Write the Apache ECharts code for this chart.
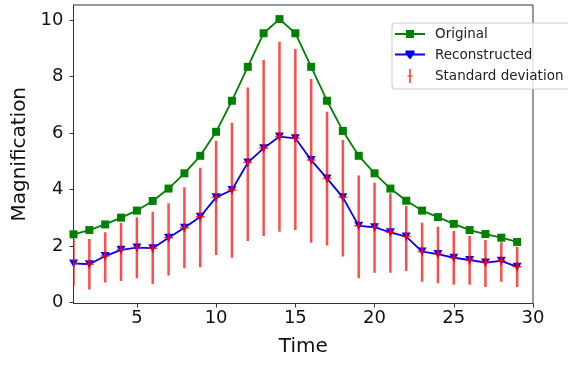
<!DOCTYPE html>
<html>
<head>
<meta charset="utf-8">
<script src="https://cdn.jsdelivr.net/npm/echarts@6/dist/echarts.min.js"></script>
<style>
html,body{margin:0;padding:0;background:#fff;}
#chart{width:568px;height:365px;}
</style>
</head>
<body>
<div id="chart"></div>
<script>
var timeValues = [1,2,3,4,5,6,7,8,9,10,11,12,13,14,15,16,17,18,19,20,21,22,23,24,25,26,27,28,29];
var originalValues = [2.42,2.57,2.77,3.01,3.26,3.60,4.04,4.58,5.20,6.05,7.15,8.35,9.54,10.04,9.54,8.35,7.15,6.08,5.20,4.58,4.04,3.61,3.26,3.03,2.79,2.57,2.43,2.30,2.15];
var reconstructedValues = [1.39,1.36,1.65,1.87,1.95,1.93,2.30,2.65,3.04,3.73,3.99,4.96,5.47,5.88,5.82,5.05,4.40,3.73,2.72,2.67,2.49,2.34,1.81,1.72,1.59,1.51,1.42,1.48,1.27];
var errLow = [0.60,0.47,0.71,0.77,0.86,0.66,0.96,1.22,1.25,1.69,1.59,2.18,2.36,2.51,2.57,2.12,2.02,1.63,0.86,1.06,1.06,1.12,0.74,0.69,0.63,0.63,0.55,0.74,0.55];
var errHigh = [2.25,2.25,2.49,2.83,3.02,3.22,3.52,4.09,4.78,5.73,6.37,7.62,8.59,9.24,8.98,7.92,6.76,5.76,4.50,4.25,3.87,3.42,2.83,2.69,2.54,2.36,2.22,2.14,1.98];
var xTicks = [5,10,15,20,25,30];
var yTicks = [0,2,4,6,8,10];
var seriesNames = ['Original','Reconstructed','Standard deviation'];

var chart = echarts.init(document.getElementById('chart'), null, {renderer:'canvas'});

function pairs(vals){ return timeValues.map(function(t,i){ return [t, vals[i]]; }); }
var errData = timeValues.map(function(t,i){ return [t, reconstructedValues[i], errLow[i], errHigh[i]]; });

var iconSquare = 'path://M0,6.1 L11,6.1 L11,3 L19,3 L19,6.1 L30,6.1 L30,7.9 L19,7.9 L19,11 L11,11 L11,7.9 L0,7.9 Z';
var iconTri = 'path://M0,6.1 L10.5,6.1 L10.5,3 L19.5,3 L19.5,6.1 L30,6.1 L30,7.9 L18.2,7.9 L15,12 L11.8,7.9 L0,7.9 Z';
var iconPlus = 'path://M2.2,0 L3.8,0 L3.8,7.3 L6,7.3 L6,8.7 L3.8,8.7 L3.8,16 L2.2,16 L2.2,8.7 L0,8.7 L0,7.3 L2.2,7.3 Z';

var font = 'DejaVu Sans';
chart.setOption({
  animation:false,
  backgroundColor:'#fff',
  grid:{left:73.5, right:35, top:5, bottom:61.5, show:true, borderColor:'#333', borderWidth:1, backgroundColor:'transparent'},
  legend:{
    orient:'vertical', left:392, top:23,
    padding:[4,8,6,3], itemGap:7, itemWidth:30, itemHeight:14,
    borderColor:'#ccc', borderWidth:1, borderRadius:3, backgroundColor:'rgba(255,255,255,0.8)',
    textStyle:{fontFamily:font, fontSize:13.5, color:'#222', padding:[0,0,0,5]},
    data:[
      {name:seriesNames[0], icon:iconSquare, itemStyle:{color:'#008000'}},
      {name:seriesNames[1], icon:iconTri, itemStyle:{color:'#0000ff'}},
      {name:seriesNames[2], icon:iconPlus, itemStyle:{color:'rgba(255,0,0,0.85)'}}
    ]
  },
  xAxis:{
    type:'value', min:1, max:30,
    name:'Time', nameLocation:'middle', nameGap:33,
    nameTextStyle:{fontFamily:font, fontSize:20, color:'#111'},
    axisLine:{show:true, onZero:false, lineStyle:{color:'#333', width:1}},
    axisTick:{show:true, customValues:xTicks, length:4, lineStyle:{color:'#333'}},
    axisLabel:{customValues:xTicks, fontFamily:font, fontSize:18, color:'#111', margin:6},
    splitLine:{show:false}
  },
  yAxis:{
    type:'value', min:-0.03, max:10.54,
    name:'Magnification', nameLocation:'middle', nameGap:42,
    nameTextStyle:{fontFamily:font, fontSize:20, color:'#111'},
    axisLine:{show:true, onZero:false, lineStyle:{color:'#333', width:1}},
    axisTick:{show:true, customValues:yTicks, length:4, lineStyle:{color:'#333'}},
    axisLabel:{customValues:yTicks, fontFamily:font, fontSize:18, color:'#111', margin:10},
    splitLine:{show:false}
  },
  series:[
    {
      name:seriesNames[0], type:'line', data:pairs(originalValues),
      symbol:'rect', symbolSize:8, showAllSymbol:true,
      lineStyle:{color:'#008000', width:1.8}, itemStyle:{color:'#008000'},
      z:2, clip:true
    },
    {
      name:seriesNames[1], type:'line', data:pairs(reconstructedValues),
      symbol:'triangle', symbolRotate:180, symbolSize:[9,8], showAllSymbol:true,
      lineStyle:{color:'#0000ff', width:1.8}, itemStyle:{color:'#0000ff'},
      z:3, clip:true
    },
    {
      name:seriesNames[2], type:'custom', data:errData, z:4, clip:true,
      itemStyle:{color:'rgba(255,0,0,0.7)'},
      encode:{x:0, y:[1,2,3]},
      renderItem:function(params, api){
        var x = api.value(0);
        var c = api.coord([x, api.value(1)]);
        var lo = api.coord([x, api.value(2)]);
        var hi = api.coord([x, api.value(3)]);
        var st = {stroke:'rgba(255,0,0,0.7)', lineWidth:2.5, fill:null};
        var pst = {stroke:'rgba(255,0,0,0.75)', lineWidth:1.5, fill:null};
        var m = 4.5;
        return {type:'group', children:[
          {type:'line', shape:{x1:hi[0], y1:hi[1], x2:lo[0], y2:lo[1]}, style:st},
          {type:'line', shape:{x1:c[0]-m, y1:c[1], x2:c[0]+m, y2:c[1]}, style:pst},
          {type:'line', shape:{x1:c[0], y1:c[1]-m, x2:c[0], y2:c[1]+m}, style:pst}
        ]};
      }
    }
  ]
});
</script>
</body>
</html>
